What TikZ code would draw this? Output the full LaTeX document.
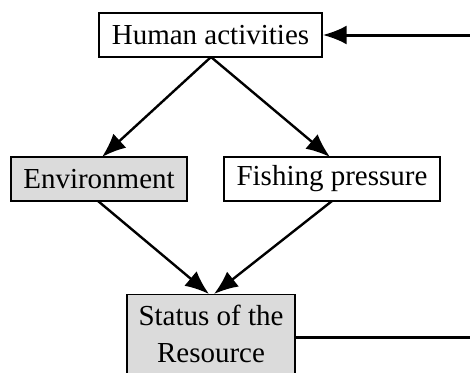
\documentclass[tikz,border=0pt]{standalone}
\usepackage{fontspec}
\setmainfont{Liberation Serif}
\usetikzlibrary{arrows.meta}
\begin{document}
\begin{tikzpicture}[x=1pt,y=-1pt,
  box/.style={draw=black, line width=1.3pt, fill=white, inner sep=0pt, minimum height=44pt},
  greybox/.style={box, fill=black!14},
  txt/.style={font=\fontsize{29}{37}\selectfont, inner sep=0pt},
  tip/.style={-{Latex[length=24pt,width=19pt]}},
  arr/.style={line width=2.4pt, tip},
  fb/.style={line width=3pt}]
\clip (0,0) rectangle (470,372);
\useasboundingbox (0,0) rectangle (470,372);
\fill[white] (0,0) rectangle (470,372);
\node[box, minimum width=223pt] (human) at (210.5,35) {};
\node[txt] at (human.center) {Human activities};
\node[greybox, minimum width=176pt] (env) at (99,179) {};
\node[txt] at (env.center) {Environment};
\node[box, minimum width=216pt] (fish) at (332,179) {};
\node[txt] at (fish.center) {Fishing pressure};
\node[greybox, minimum width=168pt, minimum height=110pt, anchor=north] (status) at (211,294) {};
\node[txt, anchor=base] (s1) at (211,325) {Status of the};
\node[txt, anchor=base] (s2) at (211,362) {Resource};
\coordinate (hb) at (211,57);
\coordinate (ea) at (102,157);
\coordinate (fa) at (330,157);
\coordinate (eb) at (98,201);
\coordinate (fbb) at (332,201);
\coordinate (sl) at (209,294);
\coordinate (sr) at (214,294);
\draw[arr] (hb) -- (ea);
\draw[arr] (hb) -- (fa);
\draw[arr] (eb) -- (sl);
\draw[arr] (fbb) -- (sr);
\coordinate (r1) at (480,337);
\coordinate (r2) at (480,35);
\draw[fb] (status.east |- r1) -- (r1) -- (r2);
\draw[fb, tip] (r2) -- (human.east);
\end{tikzpicture}
\end{document}
